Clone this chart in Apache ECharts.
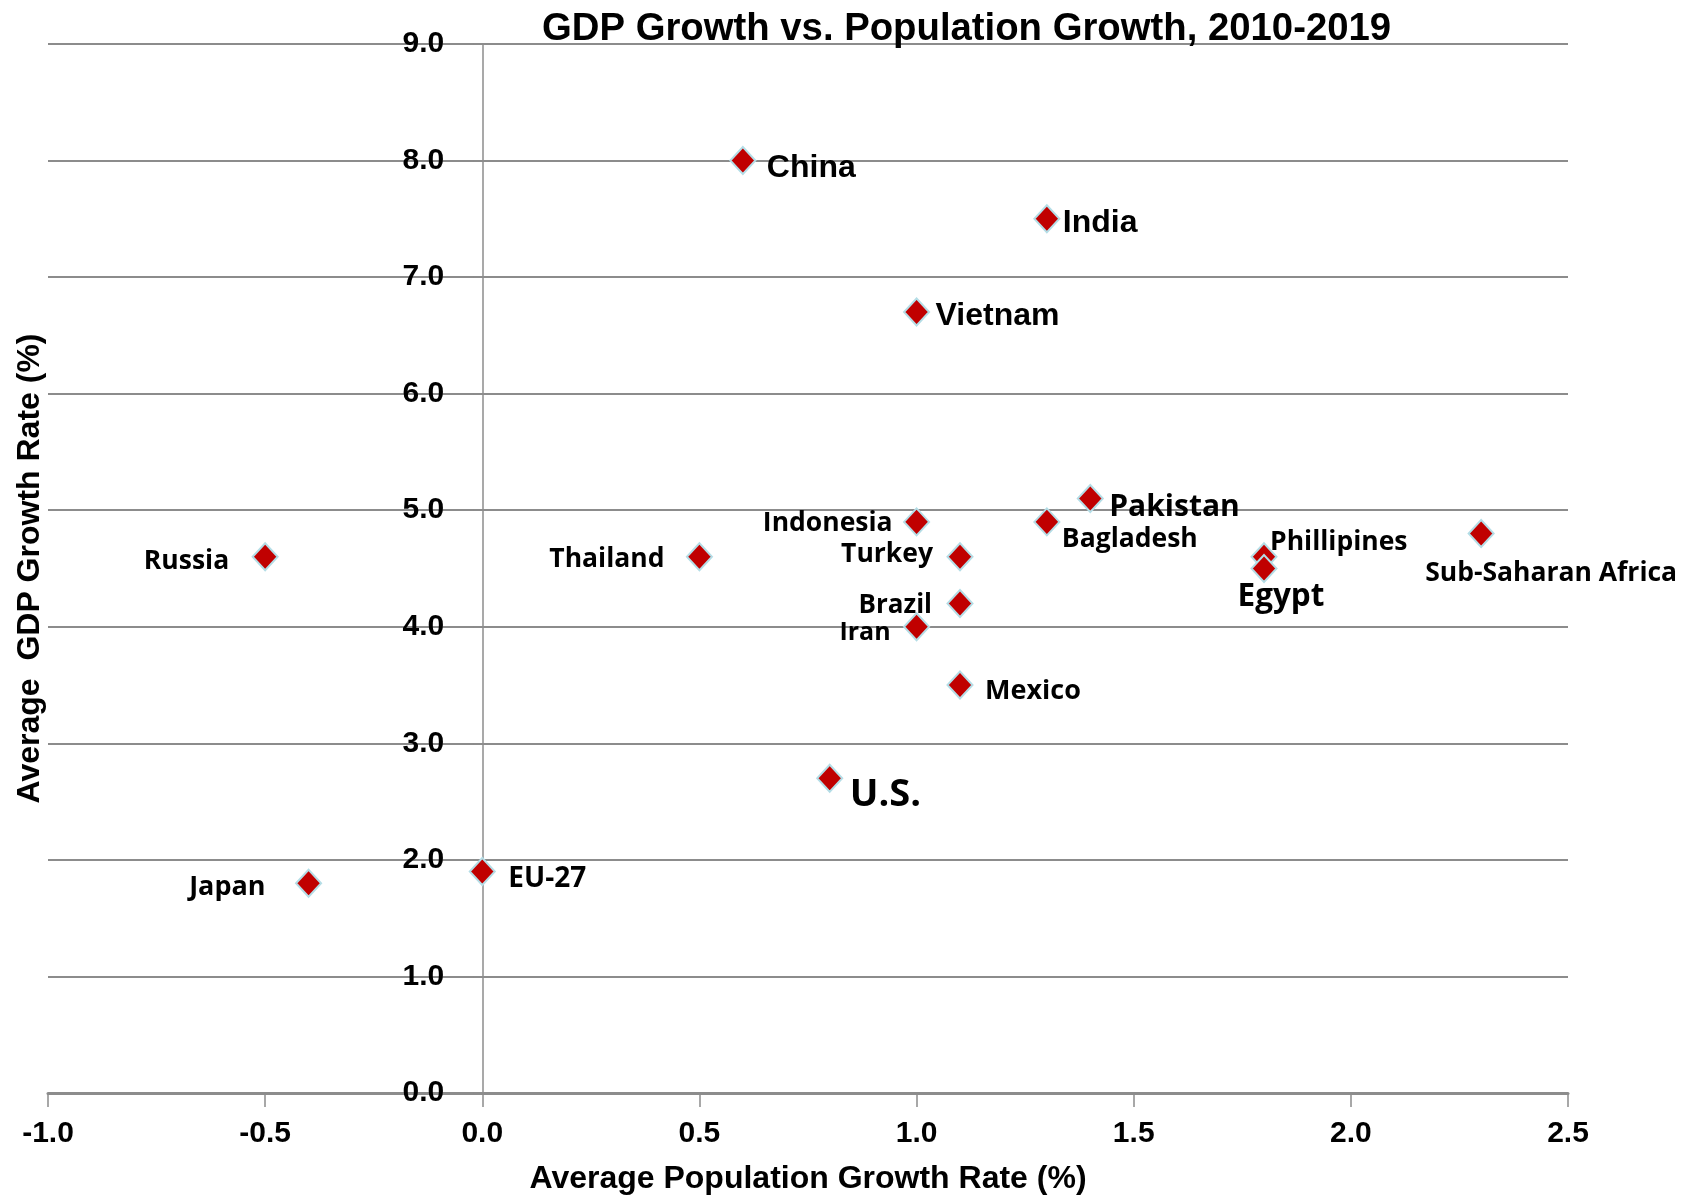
<!DOCTYPE html>
<html>
<head>
<meta charset="utf-8">
<title>GDP Growth vs. Population Growth, 2010-2019</title>
<script src="https://cdn.jsdelivr.net/npm/echarts@6/dist/echarts.min.js"></script>
<style>
    html, body { margin: 0; padding: 0; background: #ffffff; }
    #chart { width: 1699px; height: 1196px; }
</style>
</head>
<body>
<div id="chart"></div>
<script>
// data
const countries = ['China', 'India', 'Vietnam', 'Pakistan', 'Indonesia', 'Bagladesh', 'Russia', 'Thailand',
    'Turkey', 'Phillipines', 'Egypt', 'Sub-Saharan Africa', 'Brazil', 'Iran', 'Mexico', 'U.S.', 'Japan', 'EU-27'];
const popGrowth = [0.6, 1.3, 1.0, 1.4, 1.0, 1.3, -0.5, 0.5, 1.1, 1.8, 1.8, 2.3, 1.1, 1.0, 1.1, 0.8, -0.4, 0.0];
const gdpGrowth = [8.0, 7.5, 6.7, 5.1, 4.9, 4.9, 4.6, 4.6, 4.6, 4.6, 4.5, 4.8, 4.2, 4.0, 3.5, 2.7, 1.8, 1.9];

const ARIAL = "'Liberation Sans', Arial, sans-serif";
const CALIBRI = "'Open Sans', 'Noto Sans', sans-serif";

// where each label sits relative to its marker centre
const labelLook = {
    'China':              { align: 'left',   dx: 24,  dy: 8,   font: ARIAL,   size: 32 },
    'India':              { align: 'left',   dx: 16,  dy: 4,   font: ARIAL,   size: 32 },
    'Vietnam':            { align: 'left',   dx: 19,  dy: 4,   font: ARIAL,   size: 32 },
    'Pakistan':           { align: 'left',   dx: 19,  dy: 9,   font: CALIBRI, size: 30 },
    'Indonesia':          { align: 'right',  dx: -24, dy: 2,   font: CALIBRI, size: 26.5 },
    'Bagladesh':          { align: 'left',   dx: 15,  dy: 18,  font: CALIBRI, size: 26.5 },
    'Russia':             { align: 'right',  dx: -36, dy: 5,   font: CALIBRI, size: 26.5 },
    'Thailand':           { align: 'right',  dx: -35, dy: 3,   font: CALIBRI, size: 26.5 },
    'Turkey':             { align: 'right',  dx: -27, dy: -2,  font: CALIBRI, size: 26.5 },
    'Phillipines':        { align: 'left',   dx: 6,   dy: -14, font: CALIBRI, size: 26.5 },
    'Egypt':              { align: 'center', dx: 17,  dy: 29,  font: CALIBRI, size: 31.5 },
    'Sub-Saharan Africa': { align: 'left',   dx: -56, dy: 40,  font: CALIBRI, size: 26.5 },
    'Brazil':             { align: 'right',  dx: -28, dy: 2,   font: CALIBRI, size: 26 },
    'Iran':               { align: 'right',  dx: -26, dy: 6,   font: CALIBRI, size: 25 },
    'Mexico':             { align: 'left',   dx: 25,  dy: 6,   font: CALIBRI, size: 27 },
    'U.S.':               { align: 'left',   dx: 20,  dy: 17,  font: CALIBRI, size: 38 },
    'Japan':              { align: 'right',  dx: -43, dy: 4,   font: CALIBRI, size: 27 },
    'EU-27':              { align: 'left',   dx: 26,  dy: 7,   font: CALIBRI, size: 28 }
};

const points = countries.map((name, i) => {
    const l = labelLook[name];
    return {
        name: name,
        value: [popGrowth[i], gdpGrowth[i]],
        label: {
            align: l.align,
            offset: [l.dx, l.dy],
            fontFamily: l.font,
            fontSize: l.size
        }
    };
});

const GRID_LEFT = 48, GRID_RIGHT = 131;
const X_MIN = -1, X_MAX = 2.5;
// the y axis (line, labels and name) stands at x = 0
const yAxisShift = -(1699 - GRID_LEFT - GRID_RIGHT) * (0 - X_MIN) / (X_MAX - X_MIN);

const myChart = echarts.init(document.getElementById('chart'));

myChart.setOption({
    animation: false,
    title: {
        text: 'GDP Growth vs. Population Growth, 2010-2019',
        left: 542,
        top: 10,
        padding: 0,
        textStyle: { fontFamily: ARIAL, fontSize: 38.3, fontWeight: 'bold', color: '#000' }
    },
    grid: {
        left: GRID_LEFT,
        right: GRID_RIGHT,
        top: 44,
        bottom: 103,
        containLabel: false,
        outerBoundsMode: 'none'
    },
    xAxis: {
        type: 'value',
        min: X_MIN,
        max: X_MAX,
        interval: 0.5,
        name: 'Average Population Growth Rate (%)',
        nameLocation: 'middle',
        nameGap: 70,
        nameTextStyle: { fontFamily: ARIAL, fontSize: 32, fontWeight: 'bold', color: '#000' },
        axisLine: { show: true, lineStyle: { color: '#8c8c8c', width: 3 } },
        axisTick: { show: true, length: 14, lineStyle: { color: '#8c8c8c', width: 1.5 } },
        axisLabel: {
            margin: 26,
            fontFamily: ARIAL,
            fontSize: 30,
            fontWeight: 'bold',
            color: '#000',
            formatter: v => v.toFixed(1)
        },
        splitLine: { show: false }
    },
    yAxis: {
        type: 'value',
        min: 0,
        max: 9,
        interval: 1,
        position: 'left',
        offset: yAxisShift,
        name: 'Average  GDP Growth Rate (%)',
        nameLocation: 'middle',
        nameGap: 436,
        nameTextStyle: { fontFamily: ARIAL, fontSize: 32, fontWeight: 'bold', color: '#000' },
        axisLine: { show: true, onZero: false, lineStyle: { color: '#8c8c8c', width: 1.5 } },
        axisTick: { show: true, length: 9, lineStyle: { color: '#8c8c8c', width: 1.5 } },
        axisLabel: {
            margin: 38,
            padding: [6, 0, 0, 0],
            fontFamily: ARIAL,
            fontSize: 30,
            fontWeight: 'bold',
            color: '#000',
            formatter: v => v.toFixed(1)
        },
        splitLine: { show: true, lineStyle: { color: '#8c8c8c', width: 2 } }
    },
    series: [
        {
            type: 'scatter',
            symbol: 'diamond',
            symbolSize: [25, 27],
            itemStyle: { color: '#c00000', borderColor: '#b4dde6', borderWidth: 2, opacity: 1 },
            label: {
                show: true,
                formatter: '{b}',
                position: ['50%', '50%'],
                verticalAlign: 'middle',
                color: '#000',
                fontWeight: 'bold',
                textBorderWidth: 0
            },
            emphasis: { disabled: true },
            data: points
        }
    ]
});
</script>
</body>
</html>
